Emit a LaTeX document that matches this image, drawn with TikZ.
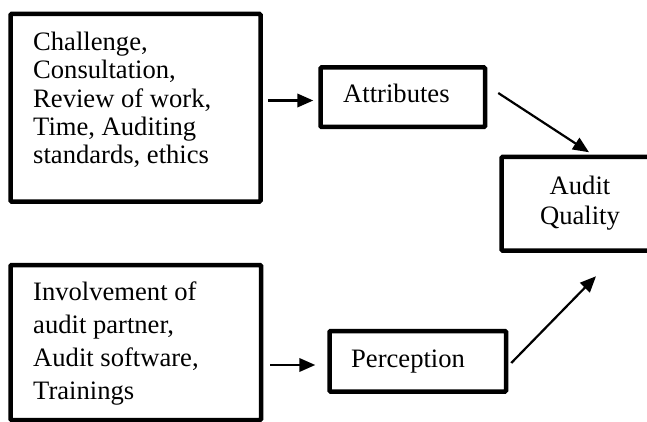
\documentclass[tikz,border=0pt]{standalone}
\usepackage{fontspec}
\setmainfont{Liberation Serif}
\usetikzlibrary{arrows.meta,calc}
\begin{document}
\begin{tikzpicture}[x=1pt,y=-1pt,
  box/.style={draw=black, line width=4.5pt, rectangle, rounded corners=1pt, inner sep=0pt, fill=none},
  txt/.style={inner sep=0pt, align=left, font=\fontsize{26.6}{28.3}\selectfont},
  arr/.style={line width=2.2pt, -{Triangle[length=16pt,width=13.5pt]}}]
\useasboundingbox (0,0) rectangle (647,422);
% boxes
\node[box, minimum width=250pt, minimum height=187.5pt] (b1) at (135.5,107.75) {};
\node[box, minimum width=164.5pt, minimum height=59.5pt] (a) at (402.75,97.25) {};
\node[box, minimum width=158.5pt, minimum height=93.5pt] (q) at (580.75,203.75) {};
\node[box, minimum width=250.5pt, minimum height=155pt] (b2) at (135.75,342.5) {};
\node[box, minimum width=176.5pt, minimum height=60.5pt] (p) at (417.75,361.25) {};
% texts
\node[txt, anchor=north west] (t1) at (33,32) {Challenge,\\Consultation,\\Review of work,\\Time, Auditing\\standards, ethics};
\node[txt, anchor=base west] (ta) at (343,103) {Attributes};
\node[txt, anchor=north, align=center, font=\fontsize{26.6}{30}\selectfont] (tq) at (580,176) {Audit\\Quality};
\node[txt, anchor=north west, font=\fontsize{26.6}{33}\selectfont] (t2) at (33,282) {Involvement of\\audit partner,\\Audit software,\\Trainings};
\node[txt, anchor=base west] (tp) at (351,367) {Perception};
% connectors
\draw[arr, shorten <=5.5pt, shorten >=5pt] (b1.east |- 0,100.5) -- (a.west |- 0,100.5);
\draw[arr, shorten <=7pt, shorten >=12pt] (b2.east |- 0,365) -- (p.west |- 0,365);
\draw[arr] ($(a.east)+(11,-4.25)$) -- ($(q.north)+(8.25,-2.5)$);
\draw[arr] ($(p.east)+(3,1.75)$) -- ($(q.south)+(15.25,23.5)$);
\end{tikzpicture}
\end{document}
